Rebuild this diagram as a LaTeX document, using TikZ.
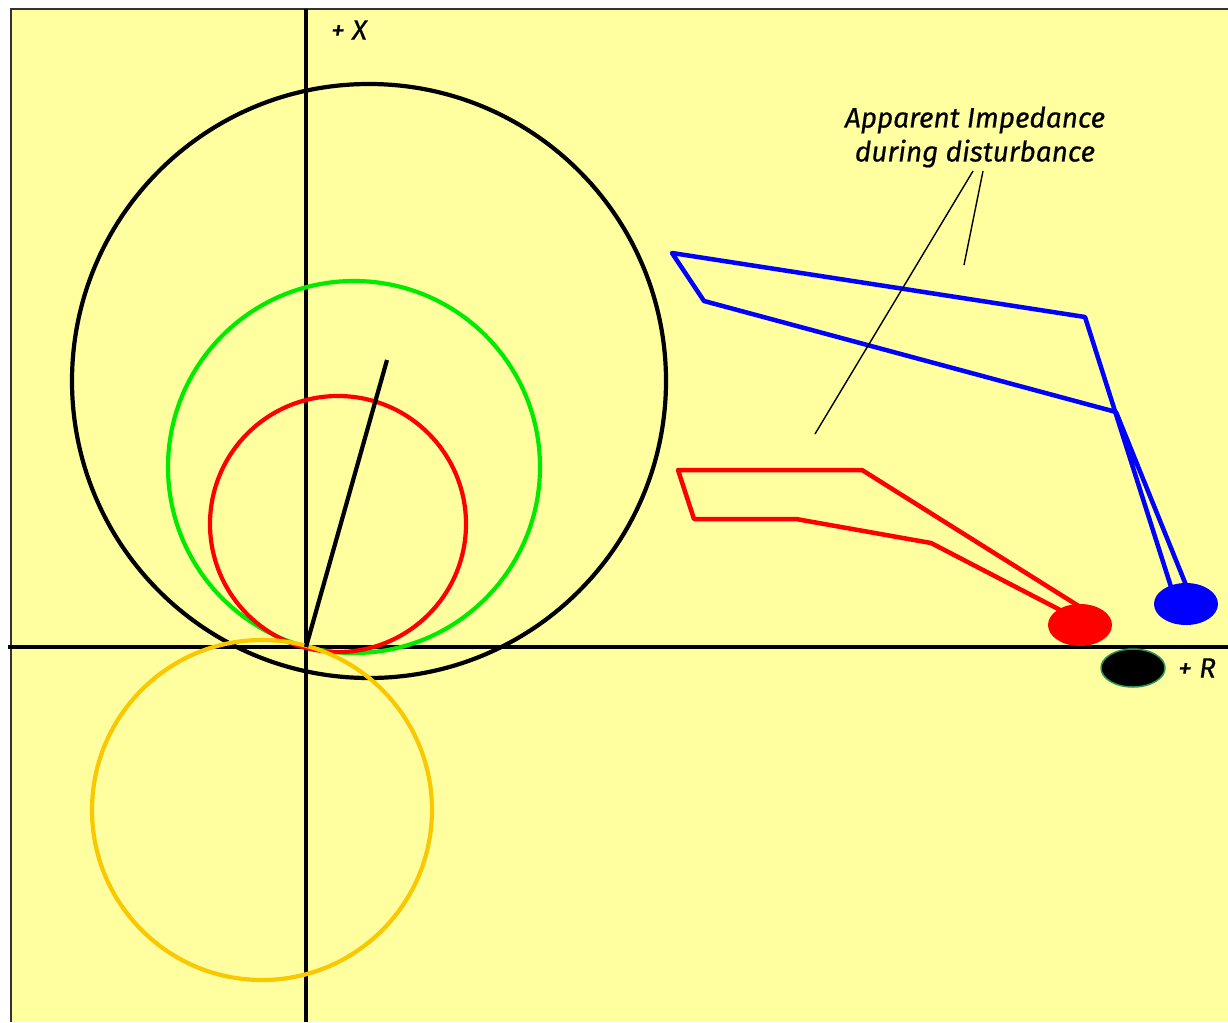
\documentclass[tikz,border=0pt]{standalone}
\usepackage{fontspec}
\setsansfont{Fira Sans}[FakeBold=0.6]
\usetikzlibrary{positioning,shapes.geometric}
\definecolor{chartbg}{RGB}{255,255,160}
\definecolor{zoneGreen}{RGB}{0,235,0}
\definecolor{zoneGold}{RGB}{250,200,0}
\definecolor{spotEdge}{RGB}{40,150,90}

\begin{document}
\begin{tikzpicture}[x=1pt,y=-1pt,
  every node/.style={font=\sffamily\itshape\fontsize{28}{34}\selectfont},
  axis/.style={draw=black,line width=4.5pt},
  mho/.style={line width=4.2pt},
  locus/.style={line width=4.5pt,line join=round},
  pointer/.style={draw=black,line width=1.4pt},
  spot/.style={ellipse,minimum width=64pt,minimum height=42pt,inner sep=0pt},
]
\useasboundingbox (0,0) rectangle (1228,1022);
% chart area
\fill[chartbg] (11,9) rectangle (1228,1022);
\draw[black!80,line width=2pt] (11,1022) -- (11,9) -- (1228,9);

% axes
\coordinate (O) at (306,647);
\coordinate (xtop) at (306,9);
\coordinate (xbot) at (306,1022);
\coordinate (rleft) at (8,647);
\coordinate (rright) at (1228,647);
\draw[axis] (xtop) -- (xbot);
\draw[axis] (rleft) -- (rright);
\node (xlabel) at (349,30) {+ X};
\node (rlabel) at (1197,668) {+ R};

% characteristic circles
\draw[mho,black] (369,381) circle [radius=297];
\draw[mho,zoneGreen] (354,467) circle [radius=186];
\draw[mho,red] (338,524) circle [radius=128];
\draw[mho,zoneGold] (262,810) circle [radius=170];
\coordinate (reach) at (387,360);
\draw[mho,black] (O) -- (reach);

% end points of the swing
\node[spot,fill=blue] (bluespot) at (1186,604) {};
\node[spot,fill=red] (redspot) at (1080,625) {};
\node[spot,fill=black,draw=spotEdge,line width=1.5pt,minimum height=38pt] (blackspot) at (1133,668) {};

% impedance trajectories
\draw[locus,blue] (1188,590) -- (1116,412) -- (704,301) -- (672,253)
  -- (1085,317) -- (1172,590);
\draw[locus,red] (1085,610) -- (862,470) -- (678,470) -- (694,519)
  -- (796,519) -- (931,543) -- (1064,612);

% annotation
\node[align=center] (note) at (975,137) {Apparent Impedance\\during disturbance};
\coordinate (tipA) at (815,434);
\coordinate (tipB) at (964,265);
\draw[pointer] ([xshift=-2pt]note.south) -- (tipA);
\draw[pointer] ([xshift=8pt]note.south) -- (tipB);
\end{tikzpicture}
\end{document}
